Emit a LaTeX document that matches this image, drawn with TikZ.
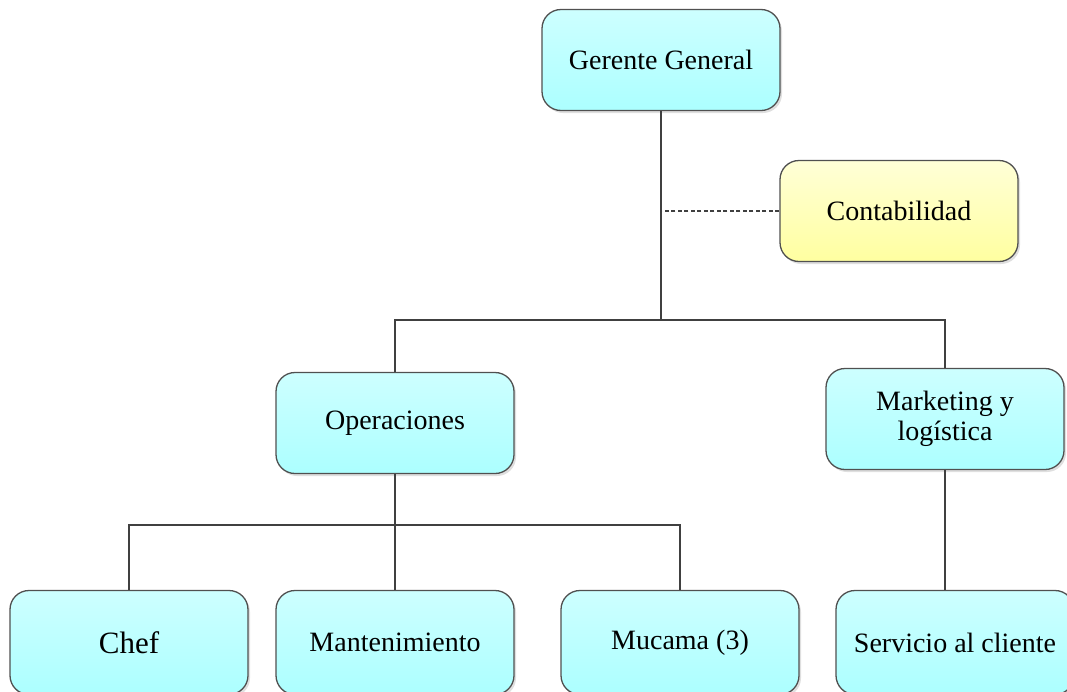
\documentclass[tikz,border=0pt]{standalone}
\usepackage{fontspec}
\setmainfont{Liberation Serif}
\usetikzlibrary{shadows}

\definecolor{cyantop}{RGB}{205,255,255}
\definecolor{cyanbot}{RGB}{172,255,255}
\definecolor{yeltop}{RGB}{255,255,215}
\definecolor{yelbot}{RGB}{255,255,160}
\definecolor{edgegray}{RGB}{80,80,80}
\definecolor{linegray}{RGB}{64,64,64}

\begin{document}
\begin{tikzpicture}[x=1pt,y=-1pt,
    unit/.style={draw=edgegray, line width=1.3pt, rounded corners=19pt,
        minimum width=238pt, minimum height=101pt, inner sep=0pt,
        align=center, font=\fontsize{28}{30}\selectfont,
        top color=cyantop, bottom color=cyanbot,
        drop shadow={shadow xshift=2pt, shadow yshift=-2.5pt, opacity=0.25, fill=gray}},
    staff/.style={unit, top color=yeltop, bottom color=yelbot},
    lowunit/.style={unit, minimum height=104pt},
    link/.style={draw=linegray, line width=1.8pt},
    dashlink/.style={draw=linegray, line width=1.6pt, dash pattern=on 4pt off 2.5pt}]

    \useasboundingbox (0,0) rectangle (1067,691);

    % Top level
    \node[unit] (gg) at (661,60) {Gerente General};
    \node[staff] (cont) at (899,211) {Contabilidad};

    % Second level
    \node[unit] (ops) at (395,423) {Operaciones};
    \node[unit] (mkt) at (945,419) {Marketing y\\log\'istica};

    % Third level (cut off at the bottom)
    \node[lowunit, font=\fontsize{31}{34}\selectfont] (chef) at (129,642.5) {Chef};
    \node[lowunit] (mant) at (395,642.5) {Mantenimiento};
    \node[lowunit] (muc) at (680,642.5) {Mucama (3)};
    \node[lowunit] (serv) at (955,642.5) {Servicio al cliente};

    % Junctions
    \coordinate (bus1) at (661,320);
    \coordinate (bus2) at (395,525);

    % Connectors
    \draw[link] (gg.south) -- (bus1);
    \draw[link] (ops.north) |- (bus1) -| (mkt.north);
    \draw[dashlink] (cont.west) -- (cont.west -| gg.south);
    \draw[link] (ops.south) -- (bus2);
    \draw[link] (chef.north) |- (bus2) -| (muc.north);
    \draw[link] (bus2) -- (mant.north);
    \draw[link] (mkt.south) -- (mkt.south |- serv.north);
\end{tikzpicture}
\end{document}
